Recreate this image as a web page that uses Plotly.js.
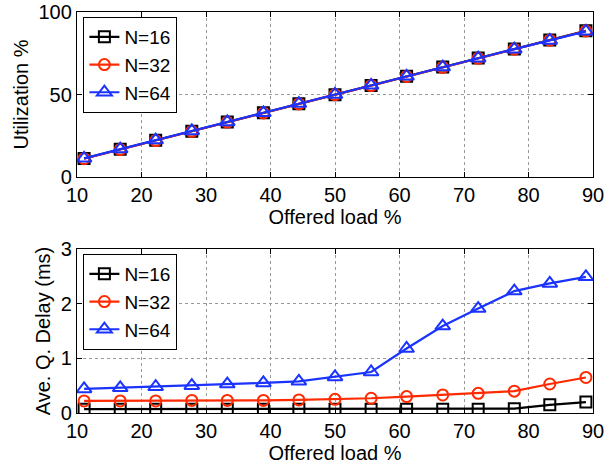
<!DOCTYPE html>
<html><head><meta charset="utf-8">
<script src="https://cdn.plot.ly/plotly-3.0.1.min.js"></script>
<style>body{margin:0;background:#fff}</style>
</head><body><div id="chart" style="width:615px;height:465px"></div>
<script>
const offeredLoad = [11.1,16.7,22.2,27.8,33.3,38.9,44.4,50.0,55.6,61.1,66.7,72.2,77.8,83.3,88.9];
const seriesNames = ["N=16","N=32","N=64"];
const util16 = [11.2,16.8,22.3,27.8,33.3,38.9,44.4,49.9,55.5,61.0,66.6,72.1,77.6,83.0,88.6];
const util32 = [11.1,16.6,22.1,27.7,33.2,38.8,44.3,49.9,55.4,60.9,66.4,71.9,77.5,82.9,88.5];
const util64 = [11.3,16.9,22.4,27.9,33.4,38.9,44.5,50.0,55.6,61.0,66.6,72.0,77.5,82.8,88.3];
const delay16 = [0.07,0.07,0.07,0.07,0.07,0.07,0.07,0.07,0.07,0.07,0.07,0.07,0.08,0.15,0.20];
const delay32 = [0.22,0.22,0.22,0.23,0.23,0.23,0.24,0.25,0.27,0.30,0.33,0.36,0.40,0.53,0.65];
const delay64 = [0.44,0.46,0.48,0.50,0.53,0.55,0.58,0.66,0.75,1.18,1.59,1.91,2.23,2.37,2.49];
const xTicks = [10,20,30,40,50,60,70,80,90];

const colors = ["#000000","#ff2a00","#1a33ff"];
const symbols = ["square-open","circle-open","triangle-up-open"];
const utilSets = [util16, util32, util64];
const delaySets = [delay16, delay32, delay64];
const fam = "Liberation Sans, Arial, Helvetica, sans-serif";
const tickFont = {family:fam, size:20, color:"#000"};
const titleFont = {family:fam, size:20, color:"#000"};

const traces = [];
function mk(ys,i,xa,ya,lg){
  return {x:offeredLoad,y:ys,name:seriesNames[i],type:"scatter",mode:"lines+markers",
    xaxis:xa,yaxis:ya,legend:lg,
    line:{color:colors[i],width:2.2},
    marker:{symbol:symbols[i],size:i===2?13:11,color:colors[i],line:{width:2,color:colors[i]}}};
}
utilSets.forEach((ys,i)=>traces.push(mk(ys,i,"x","y","legend")));
delaySets.forEach((ys,i)=>traces.push(mk(ys,i,"x2","y2","legend2")));

const axBase = {showline:true,linecolor:"#000",linewidth:1.2,mirror:"allticks",ticks:"inside",ticklen:5,tickcolor:"#000",
  showgrid:true,gridcolor:"#999",griddash:"dot",gridwidth:1,zeroline:false,tickfont:tickFont};
const legBase = {x:0.012,xanchor:"left",yanchor:"top",bgcolor:"#fff",bordercolor:"#000",borderwidth:1.2,
  font:{family:fam,size:19,color:"#000"},tracegroupgap:0,itemwidth:30};

const layout = {
  width:615,height:465,margin:{l:77,r:22,t:12,b:52},paper_bgcolor:"#fff",plot_bgcolor:"#fff",font:tickFont,
  xaxis:Object.assign({},axBase,{domain:[0,1],range:[10,90],tickvals:xTicks,anchor:"y",
    title:{text:"Offered load %",font:titleFont,standoff:0}}),
  yaxis:Object.assign({},axBase,{domain:[0.5885,1],range:[0,100],tickvals:[0,50,100],anchor:"x",
    title:{text:"Utilization %",font:titleFont,standoff:4}}),
  xaxis2:Object.assign({},axBase,{domain:[0,1],range:[10,90],tickvals:xTicks,anchor:"y2",
    title:{text:"Offered load %",font:titleFont,standoff:0}}),
  yaxis2:Object.assign({},axBase,{domain:[0,0.409],range:[0,3],tickvals:[0,1,2,3],anchor:"x2",
    title:{text:"Ave. Q. Delay (ms)",font:titleFont,standoff:4}}),
  legend:Object.assign({},legBase,{y:0.988}),
  legend2:Object.assign({},legBase,{y:0.397}),
  showlegend:true
};
Plotly.newPlot("chart",traces,layout,{displayModeBar:false,staticPlot:true});
</script></body></html>
